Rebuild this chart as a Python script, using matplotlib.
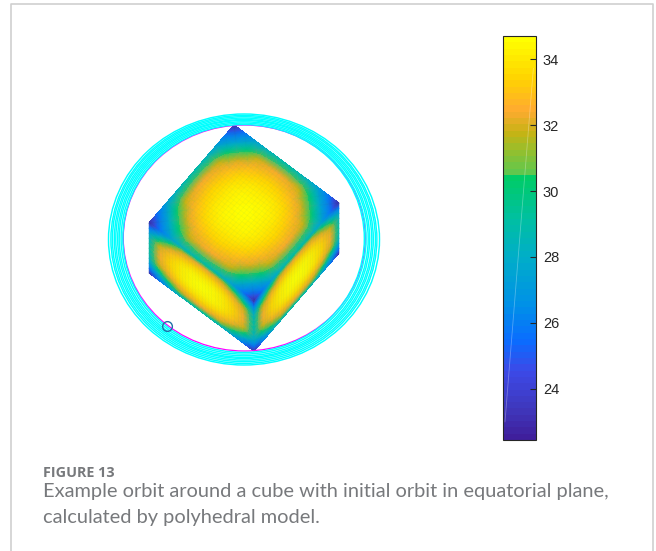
import numpy as np
import matplotlib
matplotlib.use("Agg")
import matplotlib.pyplot as plt
from matplotlib.colors import LinearSegmentedColormap, Normalize
from matplotlib.patches import Ellipse

# colour limits and colorbar ticks
vmin = 22.45
vmax = 34.7
bar_ticks = [24, 26, 28, 30, 32, 34]

# colormap stops
cmap_values = [22.45, 23.2, 24.5, 25.4, 26.5, 28, 29.2, 30.45, 30.55, 31.2, 31.8, 32.5, 33.5, 34.7]
cmap_colors = ["#3f1f9c", "#3f35b8", "#3c4ae8", "#0a6cff", "#0090e8", "#00aec8", "#00c0a0",
               "#00cc66", "#5cc850", "#90c030", "#c4b414", "#ffaa30", "#ffd400", "#ffff00"]

# surface value on a face, 11 x 11 samples across the square (u across, v down)
face_values = [
    [22.8, 25.6, 27.2, 28.1, 28.6, 28.8, 28.6, 28.1, 27.2, 25.6, 22.8],
    [25.6, 27.6, 30.1, 31.8, 32.2, 32.4, 32.2, 31.8, 30.1, 27.6, 25.6],
    [27.2, 30.1, 32.0, 32.8, 33.2, 33.4, 33.2, 32.8, 32.0, 30.1, 27.2],
    [28.1, 31.8, 32.8, 33.6, 34.0, 34.1, 34.0, 33.6, 32.8, 31.8, 28.1],
    [28.6, 32.2, 33.2, 34.0, 34.4, 34.5, 34.4, 34.0, 33.2, 32.2, 28.6],
    [28.8, 32.4, 33.4, 34.1, 34.5, 34.6, 34.5, 34.1, 33.4, 32.4, 28.8],
    [28.6, 32.2, 33.2, 34.0, 34.4, 34.5, 34.4, 34.0, 33.2, 32.2, 28.6],
    [28.1, 31.8, 32.8, 33.6, 34.0, 34.1, 34.0, 33.6, 32.8, 31.8, 28.1],
    [27.2, 30.1, 32.0, 32.8, 33.2, 33.4, 33.2, 32.8, 32.0, 30.1, 27.2],
    [25.6, 27.6, 30.1, 31.8, 32.2, 32.4, 32.2, 31.8, 30.1, 27.6, 25.6],
    [22.8, 25.6, 27.2, 28.1, 28.6, 28.8, 28.6, 28.1, 27.2, 25.6, 22.8],
]
mesh_cells = 32

# cube corners as they land on the page: [x, y]
corner_top = [234, 125]
corner_right = [339, 203]
corner_left = [149, 223]
corner_front = [254, 301]
corner_bottom = [254, 351]
corner_low_left = [149, 273]
corner_low_right = [339, 253]

# orbit rings: centre and full axes
ring_cx = [243.6, 243.6, 243.7, 243.7, 243.8, 243.8, 243.9, 243.9, 244.0]
ring_cy = [238.5, 238.6, 238.8, 238.9, 239.0, 239.1, 239.2, 239.4, 239.5]
ring_w = [241.5, 245, 249, 252, 256, 259, 263, 266, 271]
ring_h = [228, 231, 234, 237, 239, 242, 245, 248, 251]

# starting orbit: cx, cy, width, height
start_orbit = [244.3, 238, 242, 226]
# start point of the orbit
start_point = [167, 326]

caption_head = "FIGURE 13"
caption_lines = ["Example orbit around a cube with initial orbit in equatorial plane,",
                 "calculated by polyhedral model."]

cmap = LinearSegmentedColormap.from_list(
    "cube", [((v - vmin) / (vmax - vmin), c) for v, c in zip(cmap_values, cmap_colors)], N=64)
norm = Normalize(vmin, vmax)

fig = plt.figure(figsize=(6.56, 5.51), dpi=100)
ax = fig.add_axes([0, 0, 1, 1])
ax.set_xlim(0, 656)
ax.set_ylim(551, 0)
ax.axis("off")

# page frame
ax.plot([11, 11, 653, 653], [551, 4, 4, 551], color="#cfcfcf", lw=1.2)


def draw_face(origin, edge_a, edge_b):
    # origin + s * (edge_a - origin) + t * (edge_b - origin)
    z = np.array(face_values)
    s = np.linspace(0, 1, z.shape[1])
    t = np.linspace(0, 1, z.shape[0])
    ss, tt = np.meshgrid(s, t)
    o = np.array(origin, float)
    a = np.array(edge_a, float) - o
    b = np.array(edge_b, float) - o
    x = o[0] + ss * a[0] + tt * b[0]
    y = o[1] + ss * a[1] + tt * b[1]
    # contourf keeps the colormap between samples, gouraud on top softens the bands
    ax.contourf(x, y, z, levels=np.linspace(vmin, vmax, 65), cmap=cmap, norm=norm)
    ax.pcolormesh(x, y, z, shading="gouraud", cmap=cmap, norm=norm, alpha=0.45)
    # faint mesh lines, they give the mottled look of the surface
    for k in np.linspace(0, 1, mesh_cells + 1):
        ax.plot([o[0] + k * a[0], o[0] + k * a[0] + b[0]], [o[1] + k * a[1], o[1] + k * a[1] + b[1]],
                color="#30b090", lw=0.4, alpha=0.08)
        ax.plot([o[0] + k * b[0], o[0] + k * b[0] + a[0]], [o[1] + k * b[1], o[1] + k * b[1] + a[1]],
                color="#30b090", lw=0.4, alpha=0.08)


draw_face(corner_top, corner_right, corner_left)
draw_face(corner_left, corner_front, corner_low_left)
draw_face(corner_front, corner_right, corner_bottom)

ax.add_patch(Ellipse(start_orbit[:2], start_orbit[2], start_orbit[3], fill=False, ec="#ff00ff", lw=0.9))
for cx, cy, w, h in zip(ring_cx, ring_cy, ring_w, ring_h):
    ax.add_patch(Ellipse((cx, cy), w, h, fill=False, ec="#00ffff", lw=1.05))

ax.plot(start_point[0], start_point[1], "o", ms=7, mfc="none", mec="#1f6fa8", mew=1.0)

# colorbar
cax = fig.add_axes([503 / 656, 1 - 440 / 551, 33 / 656, 404 / 551])
cb = fig.colorbar(plt.cm.ScalarMappable(norm=norm, cmap=cmap), cax=cax)
cb.set_ticks(bar_ticks)
cb.ax.tick_params(direction="in", length=4, width=0.8, labelsize=10.5, colors="#262626", pad=5)
cb.outline.set_linewidth(0.8)
cb.outline.set_edgecolor("#262626")
for t in cb.ax.get_yticklabels():
    t.set_family("Liberation Sans")
# faint streak across the bar in the original
cb.ax.plot([0.06, 0.92], [0.045, 0.92], transform=cb.ax.transAxes, color="white", lw=0.6, alpha=0.3)

ax.text(43, 473, caption_head, fontsize=10.4, fontweight="bold", family="Open Sans", color="#77797c", va="center")
ax.text(43, 492, caption_lines[0], fontsize=14.4, family="Lato", color="#77797c", va="center")
ax.text(43, 517, caption_lines[1], fontsize=14.4, family="Lato", color="#77797c", va="center")

fig.savefig("out.png", dpi=100)
